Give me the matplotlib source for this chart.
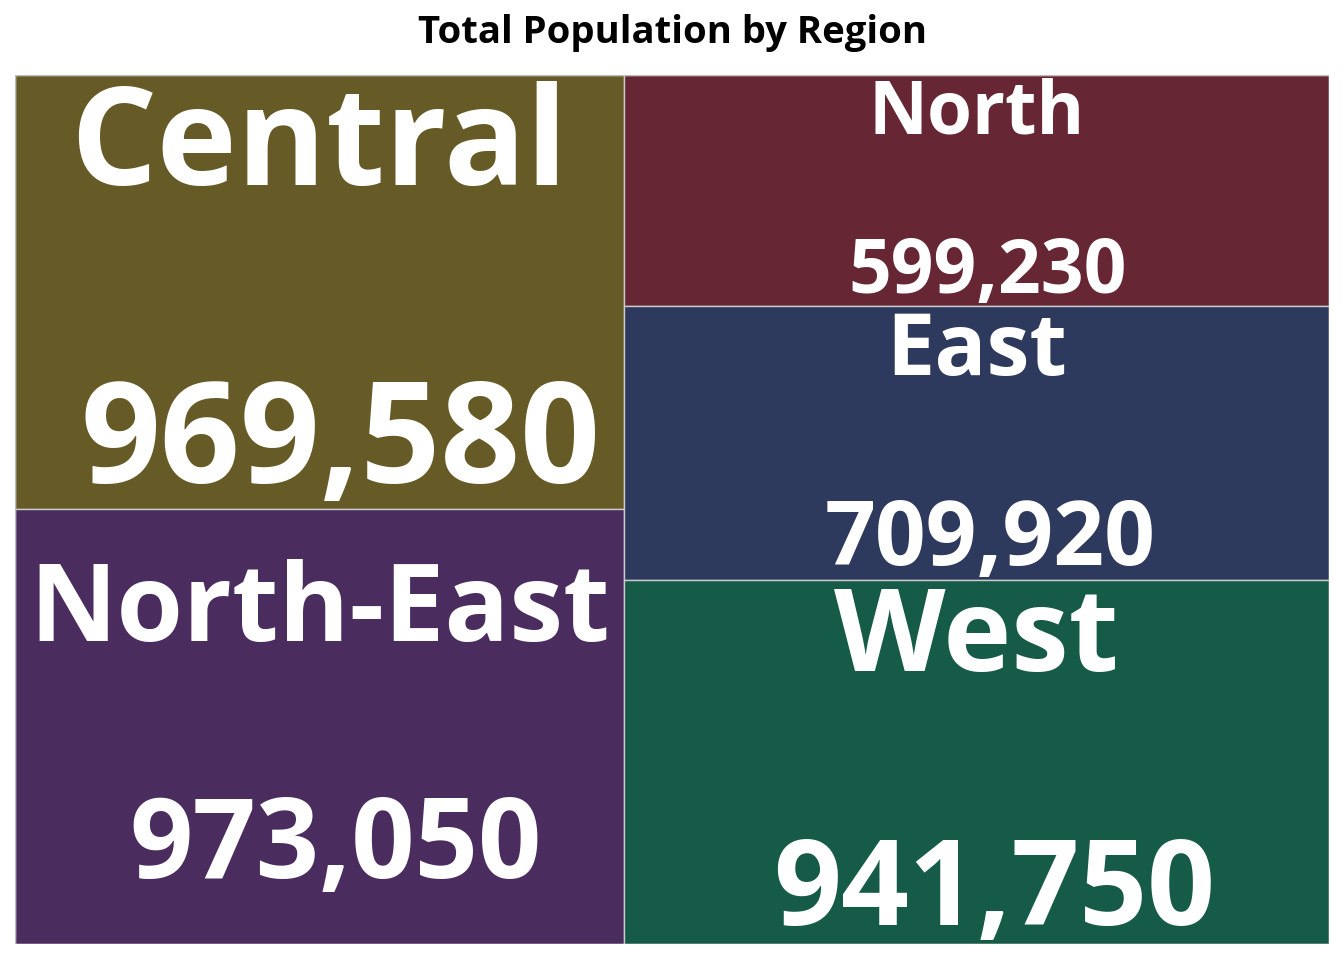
import matplotlib
matplotlib.use("Agg")
import matplotlib.pyplot as plt
from matplotlib.patches import Rectangle

# Data
regions = ["Central", "North-East", "North", "East", "West"]
population = [969580, 973050, 599230, 709920, 941750]
columns = [0, 0, 1, 1, 1]  # layout column for each tile

colors = {"Central": "#665B27", "North-East": "#4A2C5E", "North": "#672634",
          "East": "#2D3A5E", "West": "#165B48"}
# font sizes (px) for label / value
fsizes = {"Central": 140, "North-East": 111, "North": 75, "East": 89, "West": 119}

W, H = 1344, 960
fig = plt.figure(figsize=(W / 100, H / 100), dpi=100)
left, right, top, bottom = 15, 1329, 75, 944
ax = fig.add_axes([left / W, 1 - bottom / H, (right - left) / W, (bottom - top) / H])
ax.set_xlim(left, right)
ax.set_ylim(bottom, top)
ax.axis("off")

font = "Open Sans"
weight = "bold"
total = sum(population)
col_tot = {}
for c, v in zip(columns, population):
    col_tot[c] = col_tot.get(c, 0) + v

axw = right - left
axh = bottom - top
x0 = left
for c in sorted(col_tot):
    cw = col_tot[c] / total * axw
    y0 = top
    for name, v, cc in zip(regions, population, columns):
        if cc != c:
            continue
        h = v / col_tot[c] * axh
        ax.add_patch(Rectangle((x0, y0), cw, h, facecolor=colors[name],
                               edgecolor="#cccccc", linewidth=1))
        fs = fsizes[name]
        fs_pt = fs * 72 / 100
        cx = x0 + cw / 2
        mid = y0 + h / 2 - 0.065 * fs
        vb = mid + 1.43 * fs
        lb = vb - 2.13 * fs
        ax.text(cx, lb, name, ha="center", va="baseline", color="white",
                fontsize=fs_pt * 0.97, fontweight=weight, family=font)
        ax.text(cx + 0.15 * fs, vb, f"{v:,}", ha="center", va="baseline",
                color="white", fontsize=fs_pt, fontweight=weight, family=font)
        y0 += h
    x0 += cw

ax.add_patch(Rectangle((left, top), axw, axh, fill=False, edgecolor="#bbbbbb",
                       linewidth=1))

fig.text(0.5, 1 - 43 / H, "Total Population by Region", ha="center",
         va="baseline", fontsize=27.5, fontweight="bold", family=font, color="black")

fig.savefig("out.png", dpi=100)
